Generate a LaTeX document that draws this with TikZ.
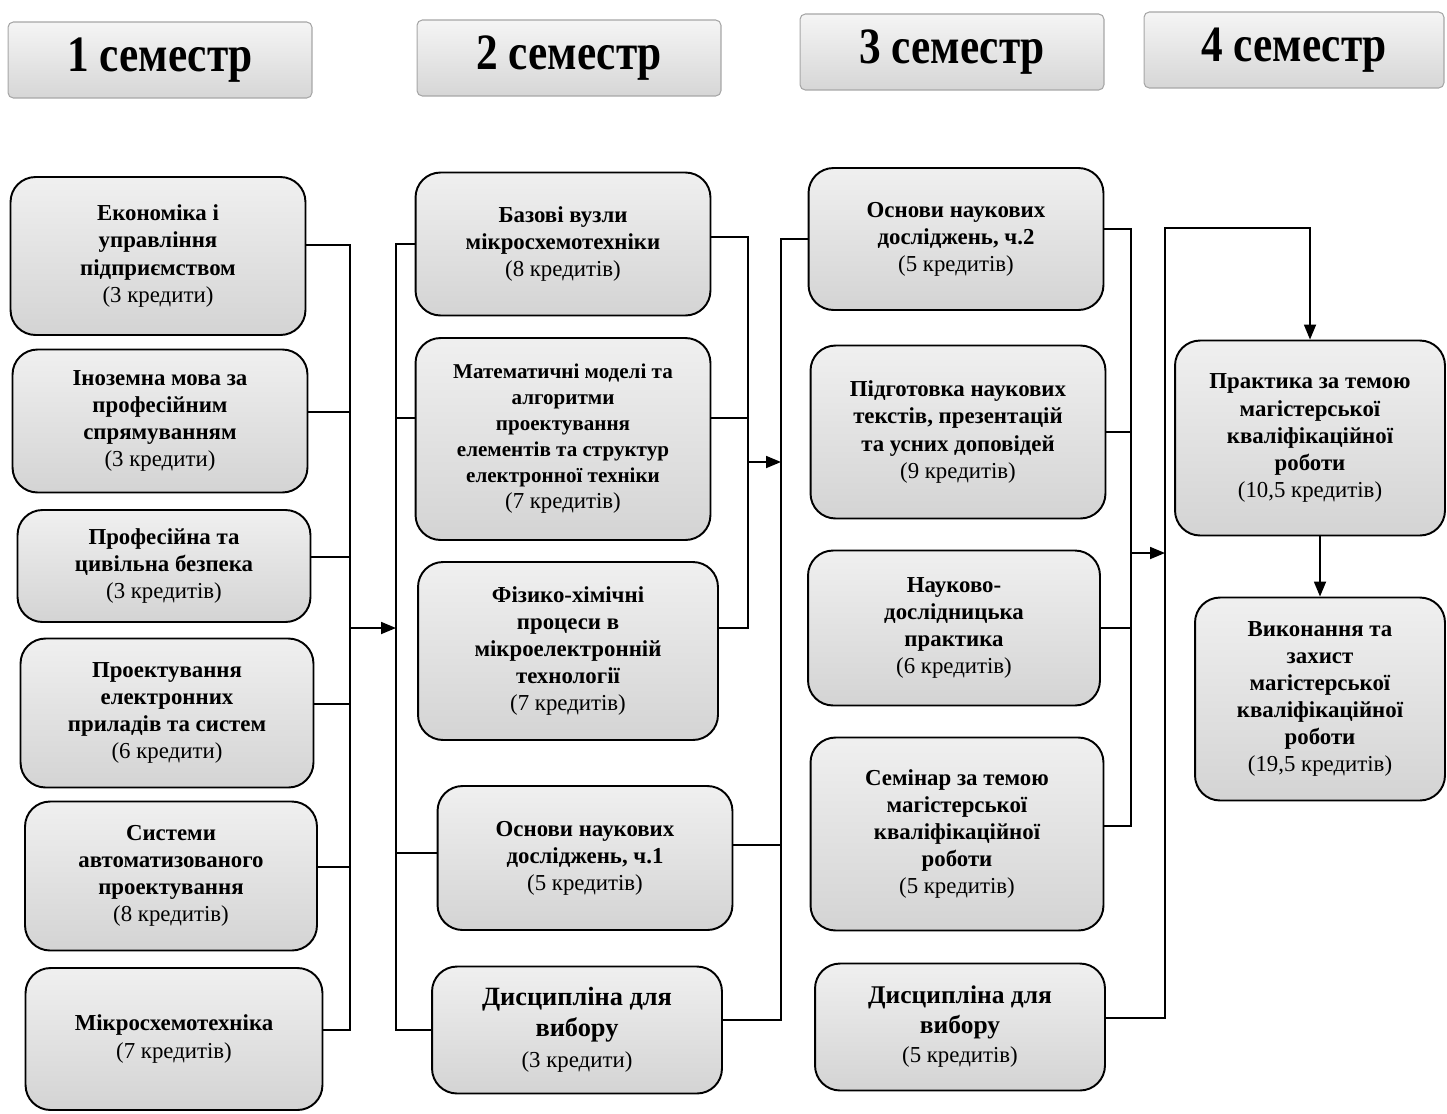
\documentclass[tikz,border=0pt]{standalone}
\usepackage{fontspec}
\setmainfont{Liberation Serif}
\newfontfamily\semfont[FakeStretch=0.85]{Liberation Serif}
\usetikzlibrary{arrows.meta}

\begin{document}
\begin{tikzpicture}[x=0.02cm,y=-0.02cm,
		course/.style={draw, line width=1.1pt, rounded corners=0.5cm, top color=gray!12, bottom color=gray!34, align=center, font=\bfseries\fontsize{13}{15.4}\selectfont},
		semester/.style={draw=gray!70, line width=0.6pt, rounded corners=3pt, top color=gray!8, bottom color=gray!32, minimum width=6.08cm, minimum height=1.52cm, font=\semfont\bfseries\fontsize{29}{30}\selectfont},
		link/.style={line width=1pt},
		arr/.style={line width=1pt, -{Triangle[length=0.3cm,width=0.24cm]}}]
		\useasboundingbox (0,0) rectangle (1447,1113);

		\draw (160,60) node [semester] (h1) {1 семестр};
		\draw (569,58) node [semester] (h2) {2 семестр};
		\draw (952,52) node [semester] (h3) {3 семестр};
		\draw (1294,50) node [semester, minimum width=6.0cm] (h4) {4 семестр};

		% 1 семестр
		\draw (158,256) node [course, minimum width=5.9cm, minimum height=3.16cm] (a1) {Економіка і\\управління\\підприємством\\\mdseries(3 кредити)};
		\draw (160,421) node [course, minimum width=5.9cm, minimum height=2.86cm] (a2) {Іноземна мова за\\професійним\\спрямуванням\\\mdseries(3 кредити)};
		\draw (164,566) node [course, minimum width=5.86cm, minimum height=2.24cm] (a3) {Професійна та\\цивільна безпека\\\mdseries(3 кредитів)};
		\draw (167,713) node [course, minimum width=5.86cm, minimum height=2.98cm] (a4) {Проектування\\електронних\\приладів та систем\\\mdseries(6 кредити)};
		\draw (171,876) node [course, minimum width=5.84cm, minimum height=2.98cm] (a5) {Системи\\автоматизованого\\проектування\\\mdseries(8 кредитів)};
		\draw (174,1039) node [course, minimum width=5.94cm, minimum height=2.84cm] (a6) {Мікросхемотехніка\\\mdseries(7 кредитів)};

		% 2 семестр
		\draw (563,244) node [course, minimum width=5.9cm, minimum height=2.86cm] (b1) {Базові вузли\\мікросхемотехніки\\\mdseries(8 кредитів)};
		\draw (563,439) node [course, minimum width=5.9cm, minimum height=4.04cm, font=\bfseries\fontsize{12}{14.8}\selectfont] (b2) {Математичні моделі та\\алгоритми\\проектування\\елементів та структур\\електронної техніки\\\mdseries\fontsize{13}{14.8}\selectfont(7 кредитів)};
		\draw (568,651) node [course, minimum width=6.0cm, minimum height=3.56cm] (b3) {Фізико-хімічні\\процеси в\\мікроелектронній\\технології\\\mdseries(7 кредитів)};
		\draw (585,858) node [course, minimum width=5.9cm, minimum height=2.88cm] (b4) {Основи наукових\\досліджень, ч.1\\\mdseries(5 кредитів)};
		\draw (577,1030) node [course, minimum width=5.8cm, minimum height=2.54cm, font=\bfseries\fontsize{15}{17.6}\selectfont] (b5) {Дисципліна для\\вибору\\\mdseries\fontsize{13}{17.6}\selectfont(3 кредити)};

		% 3 семестр
		\draw (956,239) node [course, minimum width=5.9cm, minimum height=2.84cm] (c1) {Основи наукових\\досліджень, ч.2\\\mdseries(5 кредитів)};
		\draw (958,432) node [course, minimum width=5.9cm, minimum height=3.46cm] (c2) {Підготовка наукових\\текстів, презентацій\\та усних доповідей\\\mdseries(9 кредитів)};
		\draw (954,628) node [course, minimum width=5.84cm, minimum height=3.1cm] (c3) {Науково-\\дослідницька\\практика\\\mdseries(6 кредитів)};
		\draw (957,834) node [course, minimum width=5.86cm, minimum height=3.86cm] (c4) {Семінар за темою\\магістерської\\кваліфікаційної\\роботи\\\mdseries(5 кредитів)};
		\draw (960,1027) node [course, minimum width=5.8cm, minimum height=2.54cm, font=\bfseries\fontsize{14.5}{16.8}\selectfont] (c5) {Дисципліна для\\вибору\\\mdseries\fontsize{13}{16.8}\selectfont(5 кредитів)};

		% 4 семестр
		\draw (1310,438) node [course, minimum width=5.4cm, minimum height=3.9cm] (d1) {Практика за темою\\магістерської\\кваліфікаційної\\роботи\\\mdseries(10,5 кредитів)};
		\draw (1320,699) node [course, minimum width=5.0cm, minimum height=4.06cm] (d2) {Виконання та\\захист\\магістерської\\кваліфікаційної\\роботи\\\mdseries(19,5 кредитів)};

		\coordinate (bus1) at (350,628);
		\coordinate (bus2) at (396,628);
		\coordinate (bus3) at (748,462);
		\coordinate (bus4) at (781,462);
		\coordinate (bus5) at (1131,553);
		\coordinate (bus6) at (1165,553);
		\coordinate (top6) at (1165,228);

		\draw [link] ([yshift=0.22cm]a1.east) -- ([yshift=0.22cm]a1.east -| bus1) -- ([yshift=0.18cm]a6.east -| bus1) -- ([yshift=0.18cm]a6.east);
		\foreach \n in {a2,a3,a4,a5}
			\draw [link] ([yshift=0.18cm]\n.east) -- ([yshift=0.18cm]\n.east -| bus1);
		\draw [arr] (bus1) -- (bus2);

		\draw [link] (b1.west) -- (b1.west -| bus2) -- (b5.west -| bus2) -- (b5.west);
		\draw [link] ([yshift=0.42cm]b2.west) -- ([yshift=0.42cm]b2.west -| bus2);
		\draw [link] ([yshift=0.1cm]b4.west) -- ([yshift=0.1cm]b4.west -| bus2);
		\draw [link] ([yshift=0.14cm]b1.east) -- ([yshift=0.14cm]b1.east -| bus3) -- ([yshift=0.46cm]b3.east -| bus3) -- ([yshift=0.46cm]b3.east);
		\draw [link] ([yshift=0.42cm]b2.east) -- ([yshift=0.42cm]b2.east -| bus3);
		\draw [arr] (bus3) -- (bus4);

		\draw [link] (c1.west) -- (c1.west -| bus4) -- ([yshift=0.2cm]b5.east -| bus4) -- ([yshift=0.2cm]b5.east);
		\draw [link] ([yshift=0.26cm]b4.east) -- ([yshift=0.26cm]b4.east -| bus4);
		\draw [link] ([yshift=0.2cm]c1.east) -- ([yshift=0.2cm]c1.east -| bus5) -- ([yshift=0.16cm]c4.east -| bus5) -- ([yshift=0.16cm]c4.east);
		\foreach \n in {c2,c3}
			\draw [link] (\n.east) -- (\n.east -| bus5);
		\draw [arr] (bus5) -- (bus6);

		\draw [arr] ([yshift=0.18cm]c5.east) -- ([yshift=0.18cm]c5.east -| bus6) -- (top6) -| (d1.north);
		\draw [arr] (d1.south -| d2.north) -- (d2.north);
	\end{tikzpicture}
\end{document}
